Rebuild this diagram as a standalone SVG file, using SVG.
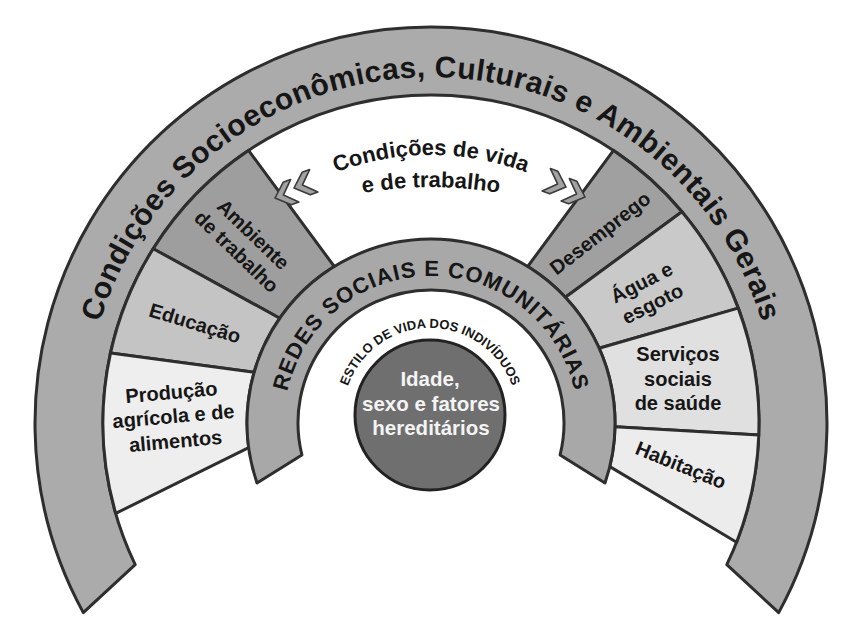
<svg xmlns="http://www.w3.org/2000/svg" width="858" height="641" viewBox="0 0 858 641">
<style>
text{font-family:"Liberation Sans",Arial,Helvetica,sans-serif;font-weight:bold;fill:#161616}
.band{stroke:#2e2e2e;stroke-width:3;stroke-linejoin:round}
.sec{stroke:#2e2e2e;stroke-width:3;stroke-linejoin:round}
.lbl{font-size:20px;text-anchor:middle}
.chev{fill:#a2a2a2;stroke:#3a3a3a;stroke-width:1.6;stroke-linejoin:round}
</style>
<defs>
<path id="pOuter" d="M85,423 A346,346 0 0 1 777,423"/>
<path id="pRedes" d="M284,423 A147,147 0 0 1 578,423"/>
<path id="pEstilo" d="M343,415 A87,87 0 0 1 517,415"/>
<path id="pVida" d="M163,423 A268,268 0 0 1 699,423"/>
<path id="pTrab" d="M31,587 A400,400 0 0 1 831,587"/>
<polygon id="chev" points="0,0 13,-12 21,-12 9,0 21,12 13,12"/>
</defs>
<rect width="858" height="641" fill="#fff"/>

<g id="outer-band">
<path class="band" fill="#ababab" d="M83.3,612.6 A396,396 0 1 1 778.7,612.6 L726.8,564.7 A328,328 0 1 0 135.2,564.7 Z"/>
<text style="font-size:30px;letter-spacing:0.4px"><textPath href="#pOuter" startOffset="50%" text-anchor="middle">Condições Socioeconômicas, Culturais e Ambientais Gerais</textPath></text>
</g>

<g id="condicoes-vida">
<text style="font-size:22px"><textPath href="#pVida" startOffset="50%" text-anchor="middle">Condições de vida</textPath></text>
<text style="font-size:22px"><textPath href="#pTrab" startOffset="50%" text-anchor="middle">e de trabalho</textPath></text>
</g>

<g id="ambiente">
<path class="sec" fill="#9e9e9e" d="M248.5,150.4 A328,328 0 0 0 153.2,248.7 L279.7,318.2 A184,184 0 0 1 334.3,266.5 Z"/>
<g transform="translate(245,243) rotate(44)"><text class="lbl" x="0" y="-5">Ambiente</text><text class="lbl" x="0" y="19">de trabalho</text></g>
</g>
<g id="educacao">
<path class="sec" fill="#c4c4c4" d="M153.2,248.7 A328,328 0 0 0 110.5,353.1 L254.1,372.3 A184,184 0 0 1 279.7,318.2 Z"/>
<text class="lbl" transform="translate(195,323) rotate(17)" x="0" y="7">Educação</text>
</g>
<g id="producao">
<path class="sec" fill="#eeeeee" d="M110.5,353.1 A328,328 0 0 0 115.7,513.4 L248.7,447.7 A184,184 0 0 1 254.1,372.3 Z"/>
<g transform="translate(174,423) rotate(-5)"><text class="lbl" x="0" y="-24">Produção</text><text class="lbl" x="0" y="0">agrícola e de</text><text class="lbl" x="0" y="25">alimentos</text></g>
</g>
<g id="desemprego">
<path class="sec" fill="#a0a0a0" d="M613.5,150.4 A328,328 0 0 1 681.9,211.7 L565.4,297.3 A184,184 0 0 0 527.7,266.5 Z"/>
<text class="lbl" transform="translate(600,233) rotate(-38)" x="0" y="7">Desemprego</text>
</g>
<g id="agua">
<path class="sec" fill="#c9c9c9" d="M681.9,211.7 A328,328 0 0 1 738.2,308.1 L599.1,348.2 A184,184 0 0 0 565.4,297.3 Z"/>
<g transform="translate(647,293) rotate(-27)"><text class="lbl" x="0" y="-5">Água e</text><text class="lbl" x="0" y="19">esgoto</text></g>
</g>
<g id="servicos">
<path class="sec" fill="#e0e0e0" d="M738.2,308.1 A328,328 0 0 1 758.8,435 L615,426.8 A184,184 0 0 0 599.1,348.2 Z"/>
<text class="lbl" x="678" y="361">Serviços</text><text class="lbl" x="678" y="386">sociais</text><text class="lbl" x="678" y="410">de saúde</text>
</g>
<g id="habitacao">
<path class="sec" fill="#ececec" d="M758.8,435 A328,328 0 0 1 736.6,542.2 L609.8,466.6 A184,184 0 0 0 615,426.8 Z"/>
<text class="lbl" transform="translate(681,465) rotate(22)" x="0" y="7">Habitação</text>
</g>

<g id="redes">
<path class="band" fill="#a8a8a8" d="M257,482.9 A184,184 0 1 1 605,482.9 L560.1,454.9 A133,133 0 1 0 301.9,454.9 Z"/>
<text style="font-size:22px;letter-spacing:1px"><textPath href="#pRedes" startOffset="50%" text-anchor="middle">REDES SOCIAIS E COMUNITÁRIAS</textPath></text>
</g>

<g id="estilo">
<text style="font-size:13px"><textPath href="#pEstilo" startOffset="50%" text-anchor="middle">ESTILO DE VIDA DOS INDIVÍDUOS</textPath></text>
</g>

<g id="individuo">
<circle cx="430" cy="415" r="75" fill="#6f6f6f" stroke="#222" stroke-width="3"/>
<text style="font-size:20.5px;fill:#f4f4f4;text-anchor:middle" x="430" y="386">Idade,</text>
<text style="font-size:20.5px;fill:#f4f4f4;text-anchor:middle" x="431" y="411">sexo e fatores</text>
<text style="font-size:20.5px;fill:#f4f4f4;text-anchor:middle" x="431" y="435">hereditários</text>
</g>

<g id="connectors">
<use href="#chev" class="chev" transform="translate(275,198) rotate(-20)"/>
<use href="#chev" class="chev" transform="translate(294,188) rotate(-20)"/>
<use href="#chev" class="chev" transform="translate(585,197) scale(-1,1) rotate(-20)"/>
<use href="#chev" class="chev" transform="translate(566,187) scale(-1,1) rotate(-20)"/>
</g>
</svg>
